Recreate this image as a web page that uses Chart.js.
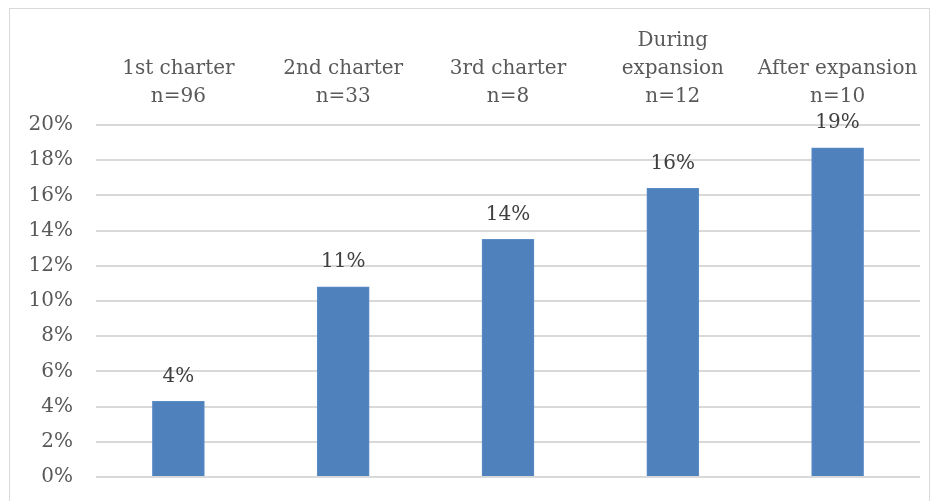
<!DOCTYPE html>
<html>
<head>
<meta charset="utf-8">
<script src="https://cdn.jsdelivr.net/npm/chart.js@4/dist/chart.umd.min.js"></script>
<style>
  html, body { margin: 0; padding: 0; background: #fff; }
  #wrap { position: relative; width: 937px; height: 501px; }
  #frame { position: absolute; left: 9px; top: 8px; width: 921px; height: 500px; border: 1px solid #d9d9d9; box-sizing: border-box; }
  canvas { position: absolute; left: 0; top: 0; }
</style>
</head>
<body>
<div id="wrap">
  <div id="frame"></div>
  <canvas id="chart" width="937" height="501"></canvas>
</div>
<script>
const categories = [
    ['1st charter', 'n=96'],
    ['2nd charter', 'n=33'],
    ['3rd charter', 'n=8'],
    ['During', 'expansion', 'n=12'],
    ['After expansion', 'n=10']
];
const shares = [4.3, 10.8, 13.5, 16.4, 18.7];
const yTicks = [0, 2, 4, 6, 8, 10, 12, 14, 16, 18, 20];

const FONT = '"DejaVu Serif", "Liberation Serif", serif';

// writes the rounded percentage above each bar
const valueLabels = {
    id: 'valueLabels',
    afterDatasetsDraw(chart) {
        const ctx = chart.ctx;
        const meta = chart.getDatasetMeta(0);
        ctx.save();
        ctx.font = '20px ' + FONT;
        ctx.fillStyle = '#404040';
        ctx.textAlign = 'center';
        ctx.textBaseline = 'middle';
        meta.data.forEach((bar, i) => {
            ctx.fillText(Math.round(shares[i]) + '%', bar.x, bar.y - 25);
        });
        ctx.restore();
    }
};

new Chart(document.getElementById('chart'), {
    type: 'bar',
    data: {
        labels: categories,
        datasets: [{
            data: shares,
            backgroundColor: '#4f81bd',
            borderColor: '#5b8cc6',
            borderWidth: 1,
            barThickness: 52
        }]
    },
    options: {
        responsive: false,
        animation: false,
        events: [],
        layout: { padding: { left: 0, top: 0, right: 17, bottom: 24 } },
        plugins: {
            legend: { display: false },
            tooltip: { enabled: false }
        },
        scales: {
            x: {
                position: 'top',
                grid: { display: false },
                border: { display: false },
                ticks: {
                    color: '#595959',
                    font: { family: FONT, size: 20, lineHeight: 1.4 },
                    maxRotation: 0,
                    padding: 6
                },
                afterFit(scale) { scale.height = 125; }
            },
            y: {
                min: 0,
                max: 20,
                afterBuildTicks(scale) { scale.ticks = yTicks.map(v => ({ value: v })); },
                grid: { color: '#d9d9d9', lineWidth: 2, drawTicks: false },
                border: { display: false },
                ticks: {
                    color: '#595959',
                    font: { family: FONT, size: 20 },
                    padding: 23,
                    callback: v => v + '%'
                },
                afterFit(scale) {
                    scale.width = 96;
                    scale.paddingTop = 0;
                    scale.paddingBottom = 0;
                }
            }
        }
    },
    plugins: [valueLabels]
});
</script>
</body>
</html>
